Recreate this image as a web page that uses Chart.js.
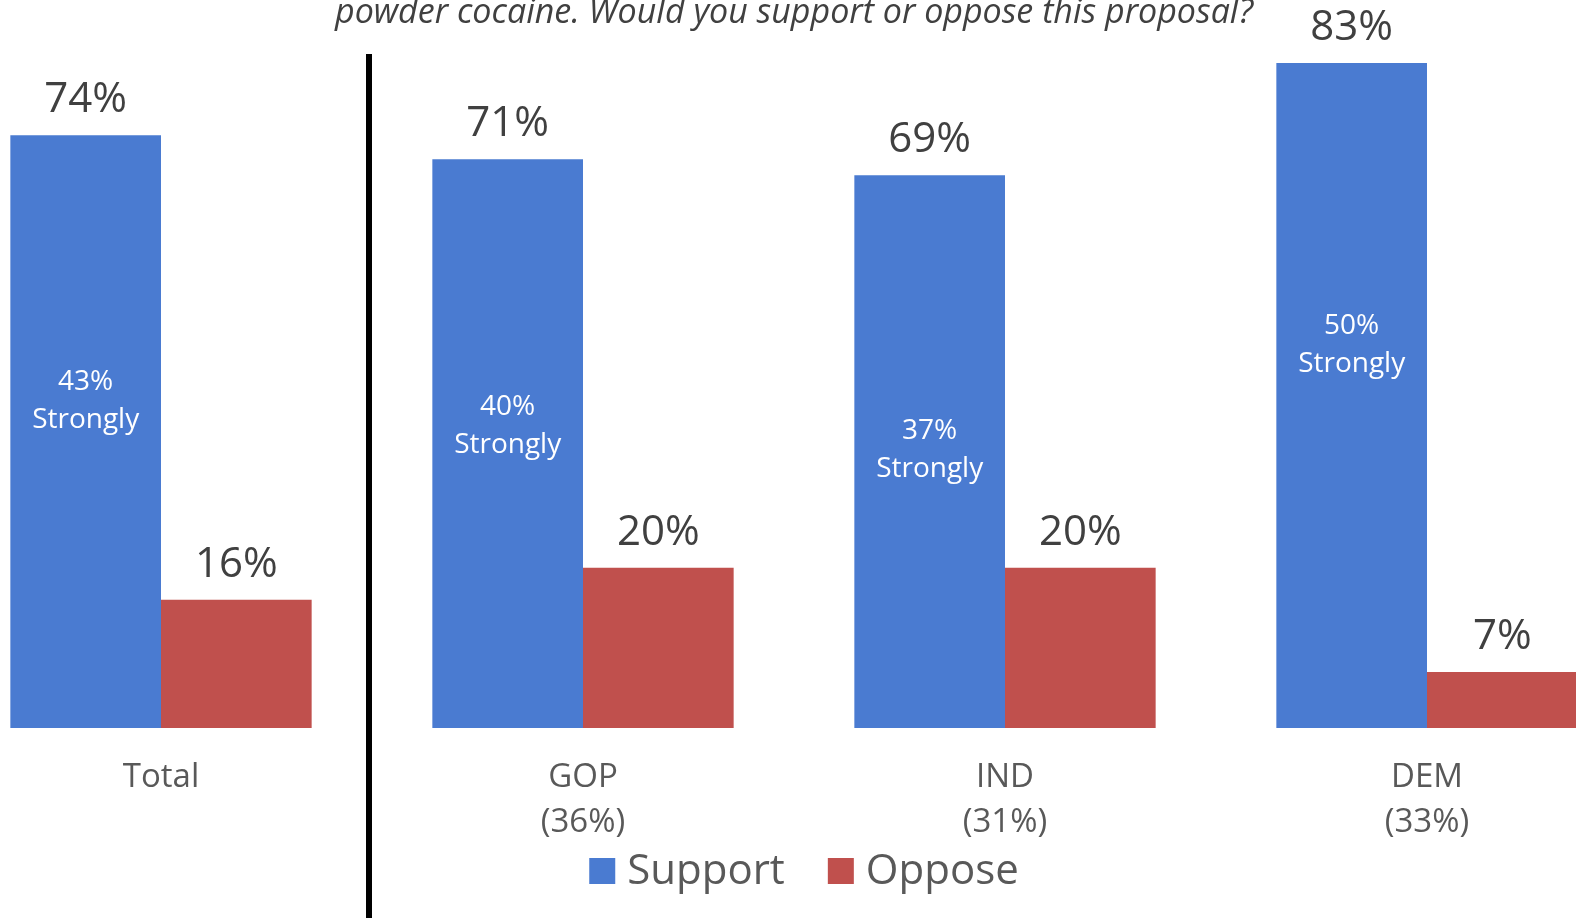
<!DOCTYPE html>
<html>
<head>
<meta charset="utf-8">
<script src="https://cdn.jsdelivr.net/npm/chart.js@4.4.1/dist/chart.umd.min.js"></script>
<style>
  html, body { margin: 0; padding: 0; background: #fff; overflow: hidden; }
  #wrap { position: absolute; left: -50px; top: 0; width: 1688px; height: 918px; }
</style>
</head>
<body>
<div id="wrap"><canvas id="chart"></canvas></div>
<script>
// chart data
var categories   = [['Total'], ['GOP', '(36%)'], ['IND', '(31%)'], ['DEM', '(33%)']];
var supportData  = [74, 71, 69, 83];
var opposeData   = [16, 20, 20, 7];
var stronglyData = [43, 40, 37, 50]; // "% Strongly" share inside the support bars
var titleLine    = 'powder cocaine. Would you support or oppose this proposal?';

var FONT = "'Open Sans', sans-serif";

// cut-off question text at the very top
var titlePlugin = {
  id: 'titleLine',
  afterDraw: function (chart) {
    var ctx = chart.ctx;
    ctx.save();
    ctx.font = 'italic 34px ' + FONT;
    ctx.fillStyle = '#404040';
    ctx.textAlign = 'center';
    ctx.textBaseline = 'alphabetic';
    ctx.fillText(titleLine, chart.width / 2, 23);
    ctx.restore();
  }
};

// black divider between Total and the party groups
var dividerPlugin = {
  id: 'divider',
  afterDraw: function (chart) {
    var xs = chart.scales.x;
    var x = (xs.getPixelForTick(0) + xs.getPixelForTick(1)) / 2 - 3;
    var ctx = chart.ctx;
    ctx.save();
    ctx.fillStyle = '#000000';
    ctx.fillRect(x - 3, 54, 6, chart.height - 54);
    ctx.restore();
  }
};

// legend row under the axis labels (built from the datasets)
var legendPlugin = {
  id: 'bottomLegend',
  afterDraw: function (chart) {
    var ctx = chart.ctx;
    var box = 26, gap = 12, itemGap = 43, y = 871;
    ctx.save();
    ctx.font = '42px ' + FONT;
    var sets = chart.data.datasets;
    var total = 0;
    sets.forEach(function (ds, i) {
      total += box + gap + ctx.measureText(ds.label).width + (i ? itemGap : 0);
    });
    var x = chart.width / 2 + 10 - total / 2;
    ctx.textBaseline = 'middle';
    ctx.textAlign = 'left';
    sets.forEach(function (ds) {
      ctx.fillStyle = ds.backgroundColor;
      ctx.fillRect(x, y - box / 2, box, box);
      x += box + gap;
      ctx.fillStyle = '#595959';
      ctx.fillText(ds.label, x, y + 1);
      x += ctx.measureText(ds.label).width + itemGap;
    });
    ctx.restore();
  }
};

// value labels above bars + "xx% Strongly" inside support bars
var labelPlugin = {
  id: 'barLabels',
  afterDatasetsDraw: function (chart) {
    var ctx = chart.ctx;
    var ys = chart.scales.y;
    ctx.save();
    ctx.textAlign = 'center';
    chart.data.datasets.forEach(function (ds, di) {
      chart.getDatasetMeta(di).data.forEach(function (bar, i) {
        ctx.font = '42px ' + FONT;
        ctx.fillStyle = '#404040';
        ctx.textBaseline = 'alphabetic';
        ctx.fillText(ds.data[i] + '%', bar.x, bar.y - 23);
      });
    });
    chart.getDatasetMeta(0).data.forEach(function (bar, i) {
      var y = ys.getPixelForValue(stronglyData[i]);
      ctx.font = '28px ' + FONT;
      ctx.fillStyle = '#ffffff';
      ctx.textBaseline = 'middle';
      ctx.fillText(stronglyData[i] + '%', bar.x, y - 1);
      ctx.fillText('Strongly', bar.x, y + 37);
    });
    ctx.restore();
  }
};

new Chart(document.getElementById('chart').getContext('2d'), {
  type: 'bar',
  data: {
    labels: categories,
    datasets: [
      {
        label: 'Support',
        data: supportData,
        backgroundColor: '#4A7BD1',
        borderWidth: 0,
        categoryPercentage: 0.714,
        barPercentage: 1.0
      },
      {
        label: 'Oppose',
        data: opposeData,
        backgroundColor: '#C0504D',
        borderWidth: 0,
        categoryPercentage: 0.714,
        barPercentage: 1.0
      }
    ]
  },
  options: {
    responsive: true,
    maintainAspectRatio: false,
    animation: false,
    layout: { padding: { top: 7, left: 0, right: 0, bottom: 0 } },
    plugins: {
      legend: { display: false },
      tooltip: { enabled: false }
    },
    scales: {
      x: {
        grid: { display: false },
        border: { display: false },
        ticks: {
          color: '#595959',
          font: { family: FONT, size: 33, lineHeight: 1.36 },
          padding: 19,
          maxRotation: 0
        },
        afterFit: function (scale) { scale.height = 190; }
      },
      y: {
        display: false,
        min: 0,
        max: 90
      }
    }
  },
  plugins: [titlePlugin, dividerPlugin, labelPlugin, legendPlugin]
});
</script>
</body>
</html>
